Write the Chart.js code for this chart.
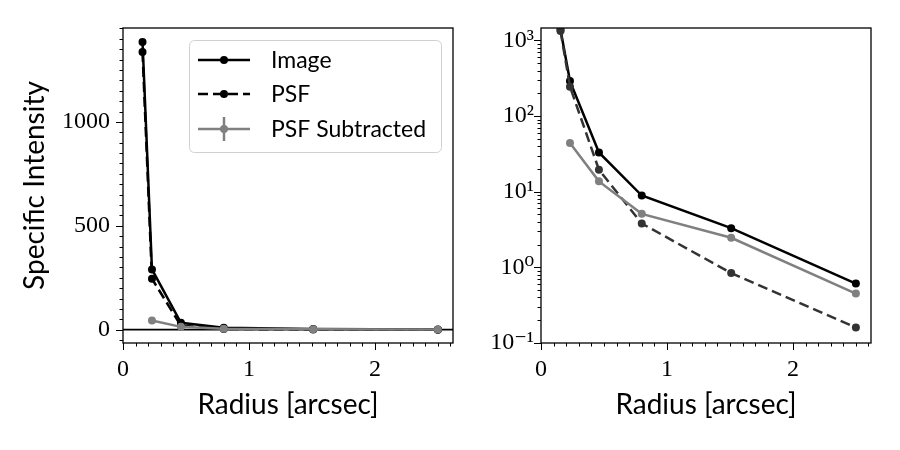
<!DOCTYPE html>
<html>
<head>
<meta charset="utf-8">
<script src="https://cdn.jsdelivr.net/npm/chart.js@4.4.0/dist/chart.umd.min.js"></script>
<style>
  body { margin: 0; background: #fff; }
  #wrap { position: relative; width: 900px; height: 450px; }
  canvas { position: absolute; top: 0; }
</style>
</head>
<body>
<div id="wrap">
  <canvas id="linChart" width="470" height="450" style="left:0"></canvas>
  <canvas id="logChart" width="430" height="450" style="left:470px"></canvas>
</div>
<script>
// valeurs
var radius = [0.155, 0.23, 0.46, 0.8, 1.51, 2.5];
var imageVals = [1385, 290, 33, 8.9, 3.3, 0.61];
var psfVals = [1337, 245, 19.5, 3.8, 0.84, 0.16];
var subRadius = [0.23, 0.46, 0.8, 1.51, 2.5];
var subVals = [44, 13.7, 5.1, 2.46, 0.45];

var xTicks = [0, 1, 2];
var linTicks = [0, 500, 1000];
var logTicks = [0.1, 1, 10, 100, 1000];
var logLabels = ['10\u207B\u00B9', '10\u2070', '10\u00B9', '10\u00B2', '10\u00B3'];

var GRAY = '#808080';
var serif = "'Liberation Serif', 'DejaVu Serif', serif";
var sans = "Lato, 'DejaVu Sans', sans-serif";

function pts(xs, ys) {
  return xs.map(function(x, i) { return { x: x, y: ys[i] }; });
}

function makeDatasets(psfColor) {
  return [
    { label: 'Image', data: pts(radius, imageVals), borderColor: '#000', backgroundColor: '#000',
      borderWidth: 2.5, pointRadius: 4, pointBorderWidth: 0, pointHoverRadius: 4, order: 3 },
    { label: 'PSF', data: pts(radius, psfVals), borderColor: psfColor, backgroundColor: psfColor,
      borderWidth: 2.5, borderDash: [10, 5], pointRadius: 4, pointBorderWidth: 0, pointHoverRadius: 4, order: 2 },
    { label: 'PSF Subtracted', data: pts(subRadius, subVals), borderColor: GRAY, backgroundColor: GRAY,
      borderWidth: 2.5, pointRadius: 4, pointBorderWidth: 0, pointHoverRadius: 4, order: 1 }
  ];
}

// cadre, graduations (majeures + mineures), ligne y=0 et légende
var framePlugin = {
  id: 'frame',
  beforeDatasetsDraw: function(chart, args, opts) {
    if (opts.hline === undefined) return;
    var ctx = chart.ctx, a = chart.chartArea;
    var y = chart.scales.y.getPixelForValue(opts.hline);
    ctx.save();
    ctx.strokeStyle = '#000';
    ctx.lineWidth = 1.8;
    ctx.beginPath();
    ctx.moveTo(a.left, y);
    ctx.lineTo(a.right, y);
    ctx.stroke();
    ctx.restore();
  },
  afterDatasetsDraw: function(chart, args, opts) {
    var ctx = chart.ctx, a = chart.chartArea;
    var xs = chart.scales.x, ys = chart.scales.y;
    ctx.save();
    ctx.strokeStyle = '#000';
    ctx.lineWidth = 1;
    ctx.beginPath();
    // x ticks
    opts.minorX.forEach(function(v) {
      var px = Math.round(xs.getPixelForValue(v)) + 0.5;
      if (px < a.left - 1 || px > a.right + 1) return;
      ctx.moveTo(px, a.bottom); ctx.lineTo(px, a.bottom + 3.5);
    });
    xTicks.forEach(function(v) {
      var px = Math.round(xs.getPixelForValue(v)) + 0.5;
      ctx.moveTo(px, a.bottom); ctx.lineTo(px, a.bottom + 7);
    });
    // y ticks
    opts.minorY.forEach(function(v) {
      var py = Math.round(ys.getPixelForValue(v)) + 0.5;
      if (py < a.top - 1 || py > a.bottom + 1) return;
      ctx.moveTo(a.left, py); ctx.lineTo(a.left - 3.5, py);
    });
    opts.majorY.forEach(function(v) {
      var py = Math.round(ys.getPixelForValue(v)) + 0.5;
      ctx.moveTo(a.left, py); ctx.lineTo(a.left - 7, py);
    });
    ctx.stroke();
    ctx.lineWidth = 1.3;
    ctx.strokeRect(a.left, a.top, a.right - a.left, a.bottom - a.top);
    ctx.restore();
  },
  afterDraw: function(chart, args, opts) {
    if (!opts.legend) return;
    var ctx = chart.ctx;
    var bx = 189, by = 40, bw = 252, bh = 112;
    ctx.save();
    ctx.beginPath();
    ctx.roundRect(bx + 0.5, by + 0.5, bw, bh, 5);
    ctx.fillStyle = 'rgba(255,255,255,0.8)';
    ctx.fill();
    ctx.strokeStyle = '#d0d0d0';
    ctx.lineWidth = 1;
    ctx.stroke();
    var rows = [60, 94, 129];
    chart.data.datasets.forEach(function(ds, i) {
      var y = rows[i];
      ctx.strokeStyle = ds.borderColor;
      ctx.fillStyle = ds.borderColor;
      ctx.lineWidth = 2.5;
      ctx.setLineDash(ds.borderDash || []);
      ctx.beginPath();
      ctx.moveTo(198, y); ctx.lineTo(250, y);
      ctx.stroke();
      ctx.setLineDash([]);
      if (ds.label === 'PSF Subtracted') {
        ctx.beginPath();
        ctx.moveTo(224, y - 12); ctx.lineTo(224, y + 12);
        ctx.stroke();
      }
      ctx.beginPath();
      ctx.arc(224, y, 4, 0, Math.PI * 2);
      ctx.fill();
      ctx.fillStyle = '#000';
      ctx.font = '23px ' + sans;
      ctx.textBaseline = 'middle';
      ctx.fillText(ds.label, 271, y + 1);
    });
    ctx.restore();
  }
};

var minorX = [];
for (var i = 1; i <= 26; i++) if (i % 10 !== 0) minorX.push(i / 10);
var minorLin = [];
for (var v = -50; v <= 1450; v += 50) if (v % 500 !== 0) minorLin.push(v);
var minorLog = [];
[0.1, 1, 10, 100, 1000].forEach(function(d) {
  for (var k = 2; k <= 9; k++) minorLog.push(d * k);
});

function xAxis() {
  return {
    type: 'linear', min: 0, max: 2.62,
    afterBuildTicks: function(s) { s.ticks = xTicks.map(function(t) { return { value: t }; }); },
    afterFit: function(s) { s.height = 107; },
    grid: { display: false, drawTicks: false },
    border: { display: false },
    ticks: { color: '#000', font: { family: serif, size: 24 }, padding: 12, maxRotation: 0,
      callback: function(val) { return String(val); } },
    title: { display: true, text: 'Radius [arcsec]', color: '#000',
      font: { family: sans, size: 28 }, padding: { top: 0, bottom: 28 } }
  };
}

new Chart(document.getElementById('linChart'), {
  type: 'line',
  data: { datasets: makeDatasets('#000') },
  options: {
    responsive: false, animation: false,
    layout: { padding: { top: 28, right: 17, left: 0, bottom: 0 } },
    scales: {
      x: xAxis(),
      y: {
        type: 'linear', min: -64, max: 1452,
        afterBuildTicks: function(s) { s.ticks = linTicks.map(function(t) { return { value: t }; }); },
        afterFit: function(s) { s.width = 123; },
        grid: { display: false, drawTicks: false },
        border: { display: false },
        ticks: { color: '#000', font: { family: serif, size: 24 }, padding: 13,
          callback: function(val) { return String(val); } },
        title: { display: true, text: 'Specific Intensity', color: '#000',
          font: { family: sans, size: 28 }, padding: { top: 18, bottom: 0 } }
      }
    },
    plugins: {
      legend: { display: false }, tooltip: { enabled: false },
      frame: { hline: 0, minorX: minorX, minorY: minorLin, majorY: linTicks, legend: true }
    }
  },
  plugins: [framePlugin]
});

new Chart(document.getElementById('logChart'), {
  type: 'line',
  data: { datasets: makeDatasets('#333') },
  options: {
    responsive: false, animation: false,
    layout: { padding: { top: 28, right: 29, left: 0, bottom: 0 } },
    scales: {
      x: xAxis(),
      y: {
        type: 'logarithmic', min: 0.1, max: 1460,
        afterBuildTicks: function(s) { s.ticks = logTicks.map(function(t) { return { value: t }; }); },
        afterFit: function(s) { s.width = 71; },
        grid: { display: false, drawTicks: false },
        border: { display: false },
        ticks: { color: '#000', font: { family: serif, size: 24 }, padding: 7,
          callback: function(val) {
            var i = logTicks.indexOf(val);
            return i >= 0 ? logLabels[i] : '';
          } }
      }
    },
    plugins: {
      legend: { display: false }, tooltip: { enabled: false },
      frame: { minorX: minorX, minorY: minorLog, majorY: logTicks, legend: false }
    }
  },
  plugins: [framePlugin]
});
</script>
</body>
</html>
